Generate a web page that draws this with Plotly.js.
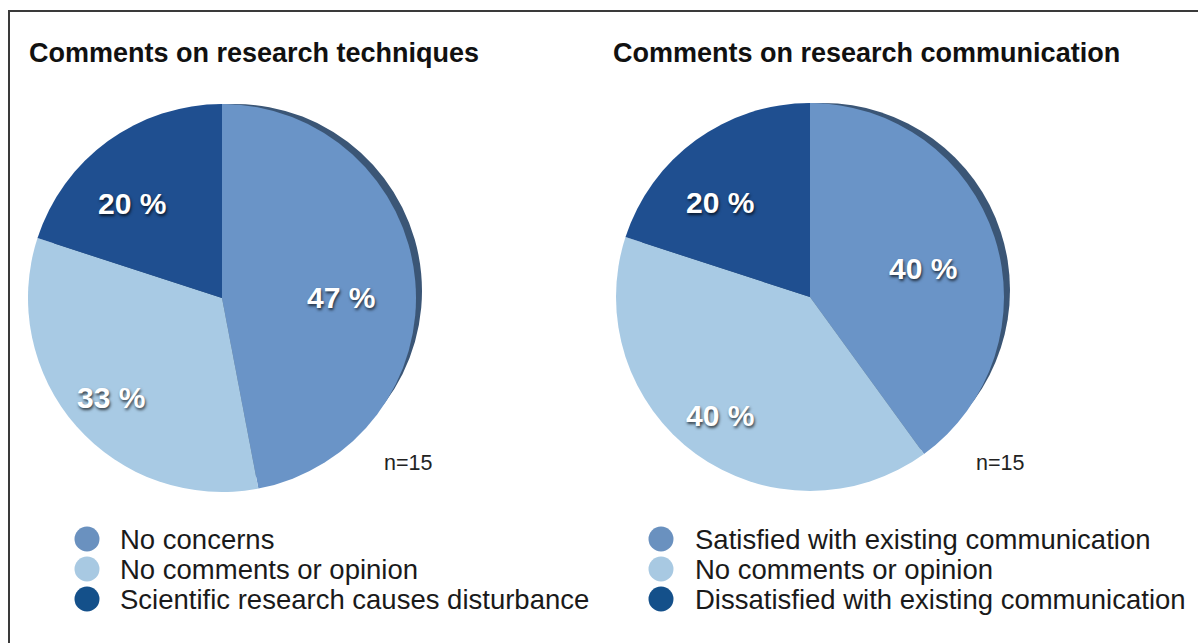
<!DOCTYPE html>
<html>
<head>
<meta charset="utf-8">
<script src="https://cdn.plot.ly/plotly-3.0.1.min.js"></script>
<style>
  html, body { margin: 0; padding: 0; background: #ffffff; }
  #chart { width: 1198px; height: 643px; }
</style>
</head>
<body>
<div id="chart"></div>
<script>
// Survey answers (n = 15), shares in percent
const techTitle = "Comments on research techniques";
const techLabels = ["No concerns", "No comments or opinion", "Scientific research causes disturbance"];
const techValues = [47, 33, 20];

const commTitle = "Comments on research communication";
const commLabels = ["Satisfied with existing communication", "No comments or opinion", "Dissatisfied with existing communication"];
const commValues = [40, 40, 20];

const sampleNote = "n=15";

// Slice and legend colours (same order as the categories)
const sliceColors = ["#6a94c7", "#a8cae4", "#1f4f90"];
const dotColors = ["#6a91bf", "#a8c9e2", "#14508a"];
const rimColor = "#3b5676";

const W = 1198, H = 643;
const px = x => x / W;
const py = y => 1 - y / H;
const FONT = "Liberation Sans, Arial, Helvetica, sans-serif";

// Pie placement in pixels: centre and radius; label anchor sits a little
// left of and below the centre to follow the tilted look of the pies
const pies = [
  { cx: 222, cy: 298, r: 194, labels: techLabels, values: techValues, title: techTitle,
    titleX: 27, legX: 87, textX: 118, noteX: 408 },
  { cx: 810, cy: 297, r: 194, labels: commLabels, values: commValues, title: commTitle,
    titleX: 611, legX: 661, textX: 693, noteX: 1000 }
];

function domainFor(cx, cy, r) {
  return { x: [px(cx - r), px(cx + r)], y: [py(cy + r), py(cy - r)] };
}

const traces = [];
const annotations = [];
pies.forEach(p => {
  // thin dark rim peeking out at the upper right, for a raised look
  traces.push({
    type: "pie", values: p.values, labels: p.labels, sort: false,
    direction: "clockwise", rotation: 0,
    marker: { colors: p.values.map(() => rimColor), line: { width: 0 } },
    textinfo: "none", hoverinfo: "skip", showlegend: false,
    domain: domainFor(p.cx + 13, p.cy - 7, p.r - 7)
  });
  traces.push({
    type: "pie", values: p.values, labels: p.labels, sort: false,
    direction: "clockwise", rotation: 0,
    marker: { colors: sliceColors, line: { width: 0 } },
    textinfo: "none", hoverinfo: "label+value", showlegend: false,
    domain: domainFor(p.cx, p.cy, p.r)
  });

  // percentage labels at the middle angle of each slice
  const total = p.values.reduce((a, b) => a + b, 0);
  const ax = p.cx - 12, ay = p.cy + 12, rr = p.r * 0.68;
  let acc = 0;
  p.values.forEach(v => {
    const mid = (acc + v / 2) / total * 2 * Math.PI;
    acc += v;
    annotations.push({
      xref: "paper", yref: "paper",
      x: px(ax + rr * Math.sin(mid)), y: py(ay - rr * Math.cos(mid)),
      xanchor: "center", yanchor: "middle",
      text: "<b>" + v + " %</b>", showarrow: false,
      font: { family: FONT, size: 30, color: "#ffffff", shadow: "1px 2px 3px rgba(0,0,0,0.7)" }
    });
  });
});

const shapes = [
  // outer frame
  { type: "rect", xref: "paper", yref: "paper", x0: px(9), x1: px(1210), y0: py(660), y1: py(11),
    line: { color: "#3a3a3a", width: 2 }, fillcolor: "rgba(0,0,0,0)", layer: "below" }
];
const legendRows = [539, 569, 599];

pies.forEach(p => {
  annotations.push({
    xref: "paper", yref: "paper", x: px(p.titleX), y: py(53), xanchor: "left", yanchor: "middle",
    text: "<b>" + p.title + "</b>", showarrow: false,
    font: { family: FONT, size: 27, color: "#111111" }
  });
  annotations.push({
    xref: "paper", yref: "paper", x: px(p.noteX), y: py(463), xanchor: "center", yanchor: "middle",
    text: sampleNote, showarrow: false,
    font: { family: FONT, size: 21.5, color: "#222222" }
  });
  p.labels.forEach((lab, i) => {
    const cy = legendRows[i], rr = 12.5;
    shapes.push({
      type: "circle", xref: "paper", yref: "paper",
      x0: px(p.legX - rr), x1: px(p.legX + rr), y0: py(cy + rr), y1: py(cy - rr),
      fillcolor: dotColors[i], line: { width: 0 }
    });
    annotations.push({
      xref: "paper", yref: "paper", x: px(p.textX), y: py(cy), xanchor: "left", yanchor: "middle",
      text: lab, showarrow: false,
      font: { family: FONT, size: 27.5, color: "#1a1a1a" }
    });
  });
});

const layout = {
  width: W, height: H,
  margin: { l: 0, r: 0, t: 0, b: 0 },
  paper_bgcolor: "#ffffff",
  showlegend: false,
  shapes: shapes,
  annotations: annotations
};

Plotly.newPlot("chart", traces, layout, { displayModeBar: false, staticPlot: true });
</script>
</body>
</html>
